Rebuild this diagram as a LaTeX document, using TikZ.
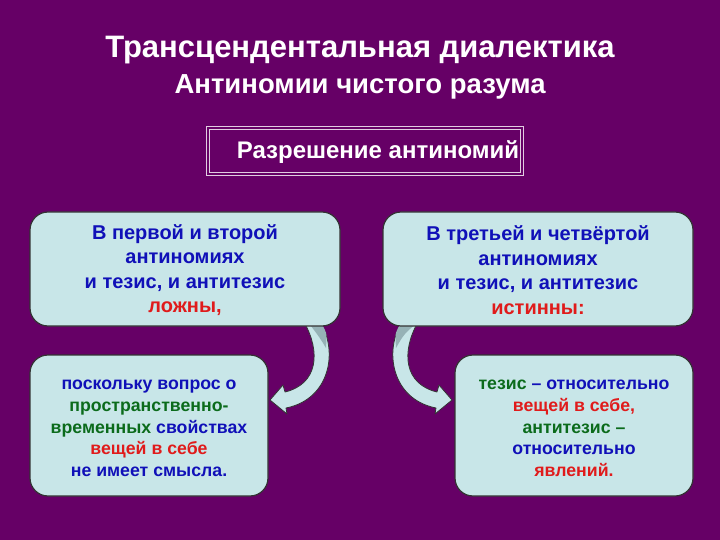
\documentclass[tikz,border=0pt]{standalone}
\usepackage{fontspec}
\setmainfont{Liberation Sans}
\definecolor{bg}{HTML}{660066}
\definecolor{boxfill}{RGB}{200,230,232}
\definecolor{tblue}{HTML}{1010B8}
\definecolor{tred}{HTML}{E01B1B}
\definecolor{tgreen}{HTML}{0B6B1B}
\definecolor{arrdark}{RGB}{150,178,182}
\definecolor{framec}{RGB}{225,205,225}
\pgfdeclarelayer{bglayer}
\pgfdeclarelayer{back}
\pgfsetlayers{bglayer,back,main}
\begin{document}
\begin{tikzpicture}[x=1pt,y=-1pt,
  box/.style={draw=black!80, line width=1.2pt, fill=boxfill, rounded corners=18pt, inner sep=0pt},
  boxtext/.style={align=center, text=tblue, inner sep=0pt},
  topfont/.style={font=\bfseries\fontsize{20}{24.5}\selectfont},
  botfont/.style={font=\bfseries\fontsize{17.7}{21.7}\selectfont},
  blockarrow/.style={fill=boxfill, draw=black!80, line width=0.8pt, line join=round},
  backface/.style={fill=arrdark}]
\begin{pgfonlayer}{bglayer}
\fill[bg] (0,0) rectangle (720,540);
\end{pgfonlayer}
\useasboundingbox (0,0) rectangle (720,540);

\node[font=\bfseries\fontsize{31}{34}\selectfont, text=white] (title) at (360,50) {Трансцендентальная диалектика};
\node[font=\bfseries\fontsize{27.5}{30}\selectfont, text=white] (sub) at (360,87) {Антиномии чистого разума};

\node[draw=framec, line width=0.9pt, double=bg, double distance=2pt,
  minimum width=314pt, minimum height=46pt, inner sep=0pt] (frame) at (365,151) {};
\node[font=\bfseries\fontsize{24}{28}\selectfont, text=white] (res) at (378,152) {Разрешение антиномий};

\node[box, minimum width=310pt, minimum height=114pt] (tl) at (185,269) {};
\node[boxtext, topfont] (tlt) at (185,270)
  {В первой и второй\\антиномиях\\и тезис, и антитезис\\\textcolor{tred}{ложны,}};
\node[box, minimum width=310pt, minimum height=114pt] (tr) at (538,269) {};
\node[boxtext, topfont] (trt) at (538,270)
  {В третьей и четвёртой\\антиномиях\\и тезис, и антитезис\\\textcolor{tred}{истинны:}};

\node[box, minimum width=238pt, minimum height=141pt] (bl) at (149,425.5) {};
\node[boxtext, botfont] (blt) at (149,428.5)
  {поскольку вопрос о\\\textcolor{tgreen}{пространственно-}\\\textcolor{tgreen}{временных} свойствах\\\textcolor{tred}{вещей в себе}\\не имеет смысла.};
\node[box, minimum width=238pt, minimum height=141pt] (br) at (574,425.5) {};
\node[boxtext, botfont] (brt) at (574,428.5)
  {\textcolor{tgreen}{тезис} – относительно\\\textcolor{tred}{вещей в себе,}\\\textcolor{tgreen}{антитезис –}\\относительно\\\textcolor{tred}{явлений.}};

\begin{pgfonlayer}{back}
% left curved arrow
\filldraw[blockarrow] (320,322) .. controls (338,350) and (331,399) .. (286,408)
  -- (287,414) -- (270,400) -- (283,385) -- (285,392)
  .. controls (318,384) and (321,352) .. (304,322) -- cycle;
\fill[backface] (308,322) -- (320,322) .. controls (327,332) .. (326,348)
  .. controls (320,338) .. (308,322) -- cycle;
% right curved arrow
\filldraw[blockarrow] (402,322) .. controls (384,350) and (391,399) .. (436,408)
  -- (435,414) -- (452,400) -- (439,385) -- (437,392)
  .. controls (404,384) and (401,352) .. (418,322) -- cycle;
\fill[backface] (418,322) -- (402,322) .. controls (395,332) .. (396,348)
  .. controls (404,334) .. (418,322) -- cycle;
\end{pgfonlayer}
\end{tikzpicture}
\end{document}
